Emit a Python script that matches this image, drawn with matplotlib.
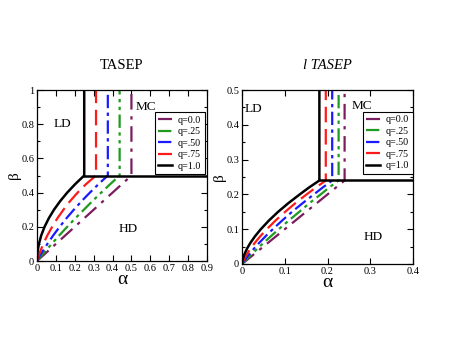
import matplotlib
matplotlib.use("Agg")
import matplotlib.pyplot as plt
from matplotlib.ticker import MultipleLocator

plt.rcParams['font.family'] = ['Liberation Serif', 'DejaVu Serif']

labels = ['q=0.0', 'q=.25', 'q=.50', 'q=.75', 'q=1.0']
colors = ['#7b1c5e', '#1e9a1e', '#1a1aff', '#ff1a1a', 'black']
styles = [(0, (7, 3, 1.5, 3)), (0, (6, 2, 1.5, 2, 1.5, 2)), (0, (6, 2, 1.5, 2)),
          (0, (7, 3)), '-']

# TASEP panel: boundary curves (alpha read at given beta), then MC vertical
beta_tasep = [0, 0.02, 0.05, 0.1, 0.15, 0.2, 0.25, 0.3, 0.35, 0.4, 0.45, 0.5]
alpha_tasep = [
    [0, 0.02, 0.05, 0.1, 0.15, 0.2, 0.25, 0.3, 0.35, 0.4, 0.45, 0.5],
    [0, 0.015, 0.038, 0.078, 0.118, 0.16, 0.203, 0.248, 0.293, 0.34, 0.388, 0.4375],
    [0, 0.009, 0.026, 0.055, 0.086, 0.12, 0.156, 0.195, 0.236, 0.28, 0.326, 0.375],
    [0, 0.005, 0.015, 0.033, 0.055, 0.08, 0.108, 0.14, 0.175, 0.215, 0.26, 0.3125],
    [0, 0.0004, 0.0025, 0.01, 0.0225, 0.04, 0.0625, 0.09, 0.1225, 0.16, 0.2025, 0.25],
]
beta_c_tasep = 0.5

# l TASEP panel
beta_ltasep = [0, 0.01, 0.02, 0.03, 0.045, 0.06, 0.08, 0.1, 0.125, 0.15, 0.175, 0.2, 0.22, 0.24]
alpha_ltasep = [
    [0, 0.01, 0.02, 0.03, 0.045, 0.06, 0.08, 0.1, 0.125, 0.15, 0.175, 0.2, 0.22, 0.24],
    [0, 0.0077, 0.0158, 0.0241, 0.0368, 0.0498, 0.0677, 0.086, 0.1095, 0.134, 0.158, 0.184, 0.204, 0.226],
    [0, 0.0055, 0.0116, 0.0181, 0.0286, 0.0396, 0.0553, 0.072, 0.094, 0.117, 0.142, 0.168, 0.189, 0.211],
    [0, 0.0032, 0.0074, 0.0122, 0.0203, 0.0294, 0.043, 0.058, 0.0785, 0.101, 0.125, 0.151, 0.173, 0.196],
    [0, 0.0011, 0.0033, 0.0063, 0.0121, 0.0192, 0.0306, 0.044, 0.063, 0.0845, 0.1086, 0.135, 0.157, 0.181],
]
beta_c_ltasep = 0.24

fig = plt.figure(figsize=(4.49, 3.47), dpi=100)
ax1 = fig.add_axes([0.0824, 0.2478, 0.3786, 0.4928])
ax2 = fig.add_axes([0.539, 0.2392, 0.3808, 0.5014])


def draw(ax, betas, alphas, bc, ytop, xmax):
    for a, c, ls, lab in zip(alphas, colors, styles, labels):
        lw = 1.8 if c == 'black' else 1.6
        ax.plot(a + [a[-1]], betas + [ytop], color=c, ls=ls, lw=lw, label=lab)
    ax.plot([alphas[-1][-1], xmax], [bc, bc], color='black', lw=1.8)
    ax.set_xlim(0, xmax)
    ax.set_ylim(0, ytop)
    ax.tick_params(which='both', direction='in', top=True, right=True,
                   labelsize=7.5, width=0.8, pad=2)
    ax.tick_params(which='major', length=4)
    ax.tick_params(which='minor', length=2)
    for sp in ax.spines.values():
        sp.set_linewidth(0.9)
    ax.set_xlabel('α', fontsize=14, labelpad=-1)
    ax.set_ylabel('β', fontsize=11, labelpad=0)


draw(ax1, beta_tasep, alpha_tasep, beta_c_tasep, 1.0, 0.9)
ax1.set_xticks([0, 0.1, 0.2, 0.3, 0.4, 0.5, 0.6, 0.7, 0.8, 0.9])
ax1.set_xticklabels(['0', '0.1', '0.2', '0.3', '0.4', '0.5', '0.6', '0.7', '0.8', '0.9'])
ax1.set_yticks([0, 0.2, 0.4, 0.6, 0.8, 1.0])
ax1.set_yticklabels(['0', '0.2', '0.4', '0.6', '0.8', '1'])
ax1.yaxis.set_minor_locator(MultipleLocator(0.1))
ax1.set_title('TASEP', fontsize=10.5, pad=15)
ax1.text(0.135, 0.80, 'LD', fontsize=9.5, ha='center', va='center')
ax1.text(0.578, 0.90, 'MC', fontsize=9.5, ha='center', va='center')
ax1.text(0.482, 0.19, 'HD', fontsize=9.5, ha='center', va='center')

draw(ax2, beta_ltasep, alpha_ltasep, beta_c_ltasep, 0.5, 0.4)
ax2.set_xticks([0, 0.1, 0.2, 0.3, 0.4])
ax2.set_xticklabels(['0', '0.1', '0.2', '0.3', '0.4'])
ax2.set_yticks([0, 0.1, 0.2, 0.3, 0.4, 0.5])
ax2.set_yticklabels(['0', '0.1', '0.2', '0.3', '0.4', '0.5'])
ax2.yaxis.set_minor_locator(MultipleLocator(0.05))
ax2.set_title('l TASEP', fontsize=10.5, style='italic', pad=15)
ax2.text(0.027, 0.445, 'LD', fontsize=9.5, ha='center', va='center')
ax2.text(0.28, 0.455, 'MC', fontsize=9.5, ha='center', va='center')
ax2.text(0.307, 0.077, 'HD', fontsize=9.5, ha='center', va='center')

for ax, anchor in [(ax1, (0.988, 0.871)), (ax2, (1.0, 0.874))]:
    leg = ax.legend(loc='upper right', bbox_to_anchor=anchor, borderaxespad=0,
                    fontsize=7.2, handlelength=1.4, handletextpad=0.6,
                    labelspacing=0.25, borderpad=0.35, fancybox=False,
                    framealpha=1, edgecolor='black')
    leg.get_frame().set_linewidth(0.8)

fig.savefig('out.png', dpi=100)
